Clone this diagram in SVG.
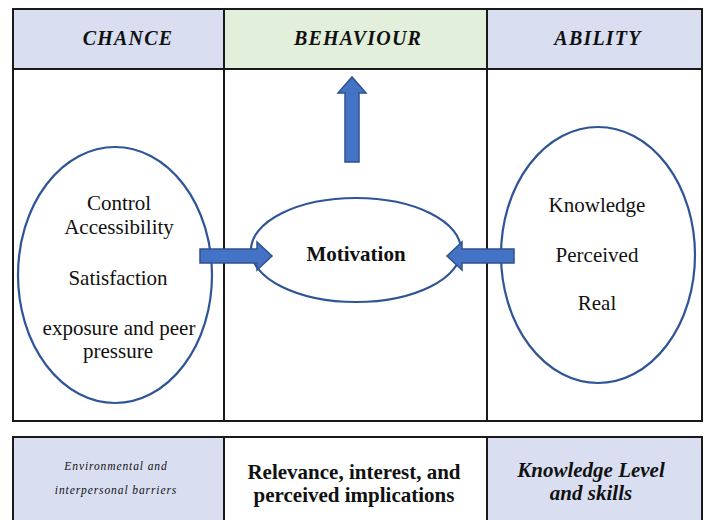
<svg xmlns="http://www.w3.org/2000/svg" width="709" height="520" viewBox="0 0 709 520">
  <defs>
    <style>
      .grid { fill: none; stroke: #1a1a1a; stroke-width: 2; }
      .cellBlue { fill: #d9dff1; }
      .cellGreen { fill: #e2efda; }
      .oval { fill: #ffffff; stroke: #2f5597; stroke-width: 2.2; }
      .arrow { fill: #4472c4; stroke: #2f528f; stroke-width: 1.5; stroke-linejoin: miter; }
      text { font-family: "Liberation Serif", "Times New Roman", serif; fill: #111; text-anchor: middle; }
      .head { font-size: 20px; font-weight: bold; font-style: italic; letter-spacing: 1.2px; }
      .body { font-size: 21px; }
      .bold { font-weight: bold; }
      .foot { font-size: 21px; font-weight: bold; }
      .small { font-size: 11.5px; font-style: italic; letter-spacing: 0.9px; }
    </style>
  </defs>

  <rect width="709" height="520" fill="#ffffff"/>

  <!-- main table -->
  <g id="table-top">
    <rect class="cellBlue" x="13" y="9" width="211" height="60"/>
    <rect class="cellGreen" x="224" y="9" width="263" height="60"/>
    <rect class="cellBlue" x="487" y="9" width="215" height="60"/>
    <rect class="grid" x="13" y="9" width="689" height="412"/>
    <line class="grid" x1="13" y1="69" x2="702" y2="69"/>
    <line class="grid" x1="224" y1="9" x2="224" y2="421"/>
    <line class="grid" x1="487" y1="9" x2="487" y2="421"/>
    <text class="head" x="128" y="45">CHANCE</text>
    <text class="head" x="358" y="45">BEHAVIOUR</text>
    <text class="head" x="598" y="45">ABILITY</text>
  </g>

  <!-- footer table -->
  <g id="table-bottom">
    <rect class="cellBlue" x="13" y="437" width="211" height="90"/>
    <rect fill="#ffffff" x="224" y="437" width="263" height="90"/>
    <rect class="cellBlue" x="487" y="437" width="215" height="90"/>
    <rect class="grid" x="13" y="437" width="689" height="90" stroke-width="2.5"/>
    <line class="grid" x1="224" y1="437" x2="224" y2="520" stroke-width="2.5"/>
    <line class="grid" x1="487" y1="437" x2="487" y2="520" stroke-width="2.5"/>
    <text class="small" x="116" y="470">Environmental and</text>
    <text class="small" x="116" y="494">interpersonal barriers</text>
    <text class="foot" x="354" y="479">Relevance, interest, and</text>
    <text class="foot" x="354" y="502">perceived implications</text>
    <text class="foot" x="591" y="477" font-style="italic">Knowledge Level</text>
    <text class="foot" x="591" y="500" font-style="italic">and skills</text>
  </g>

  <g id="chance">
    <ellipse class="oval" cx="115" cy="275" rx="97" ry="128"/>
    <text class="body" x="119" y="210">Control</text>
    <text class="body" x="119" y="234">Accessibility</text>
    <text class="body" x="118" y="285">Satisfaction</text>
    <text class="body" x="119" y="335">exposure and peer</text>
    <text class="body" x="118" y="358">pressure</text>
  </g>

  <g id="motivation">
    <ellipse class="oval" cx="356" cy="250" rx="105" ry="52"/>
    <text class="body bold" x="356" y="261">Motivation</text>
  </g>

  <g id="ability">
    <ellipse class="oval" cx="598" cy="255" rx="97" ry="128"/>
    <text class="body" x="597" y="212">Knowledge</text>
    <text class="body" x="597" y="262">Perceived</text>
    <text class="body" x="597" y="310">Real</text>
  </g>

  <!-- block arrows -->
  <g id="connectors">
    <polygon class="arrow" points="200,249 257,249 257,242 272,256 257,270 257,263 200,263"/>
    <polygon class="arrow" points="514,249 462,249 462,242 447,256 462,270 462,263 514,263"/>
    <polygon class="arrow" points="345,162 345,93 338,93 352,77 366,93 359,93 359,162"/>
  </g>
</svg>
